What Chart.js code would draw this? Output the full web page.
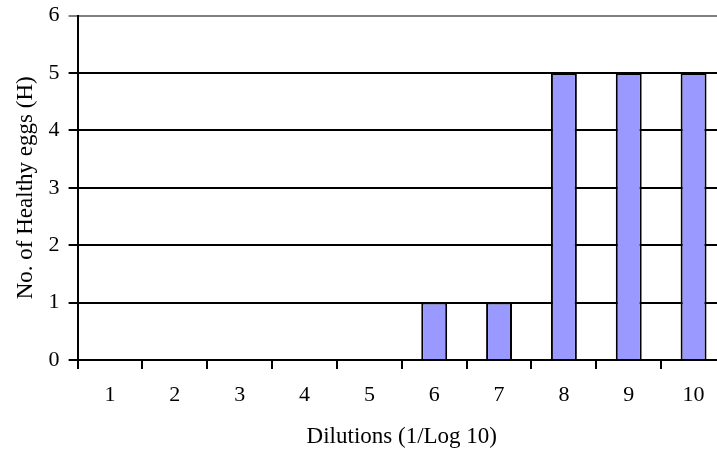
<!DOCTYPE html>
<html>
<head>
<meta charset="utf-8">
<script src="https://cdn.jsdelivr.net/npm/chart.js@4"></script>
<style>
  html, body { margin: 0; padding: 0; background: #fff; overflow: hidden; }
  #wrap { position: absolute; left: 0; top: 0; width: 730px; height: 453px; }
</style>
</head>
<body>
<div id="wrap"><canvas id="c" width="730" height="453"></canvas></div>
<script>
  // Healthy eggs per dilution
  const dilutions = ["1", "2", "3", "4", "5", "6", "7", "8", "9", "10"];
  const healthyEggs = [0, 0, 0, 0, 0, 1, 1, 5, 5, 5];
  const yTicks = [0, 1, 2, 3, 4, 5, 6];

  const serif = "'Liberation Serif', 'Times New Roman', serif";

  new Chart(document.getElementById("c").getContext("2d"), {
    type: "bar",
    data: {
      labels: dilutions,
      datasets: [{
        label: "Healthy eggs",
        data: healthyEggs,
        backgroundColor: "#9999ff",
        borderColor: "#000",
        borderWidth: 2,
        barPercentage: 0.4,
        categoryPercentage: 1,
      }],
    },
    options: {
      responsive: false,
      animation: false,
      layout: { padding: { left: 4, top: 0, right: 4, bottom: 2 } },
      plugins: { legend: { display: false }, tooltip: { enabled: false } },
      scales: {
        x: {
          grid: { drawOnChartArea: false, color: "#000", lineWidth: 2, tickLength: 9 },
          border: { color: "#000", width: 2 },
          ticks: { color: "#000", font: { family: serif, size: 22 }, padding: 13 },
          title: { display: true, text: "Dilutions (1/Log 10)", color: "#000", font: { family: serif, size: 23 }, padding: { top: 2, bottom: 0 } },
        },
        y: {
          min: yTicks[0],
          max: yTicks[yTicks.length - 1],
          afterBuildTicks: s => { s.ticks = yTicks.map(v => ({ value: v })); },
          grid: { color: c => c.tick && c.tick.value === 6 ? "#808080" : "#000", lineWidth: 2, tickLength: 9 },
          border: { color: "#000", width: 2 },
          ticks: { color: "#000", font: { family: serif, size: 22, lineHeight: 0.6 }, padding: 9 },
          title: { display: true, text: "No. of Healthy eggs (H)", color: "#000", font: { family: serif, size: 23 }, padding: { top: 8, bottom: 0 } },
        },
      },
    },
  });
</script>
</body>
</html>
